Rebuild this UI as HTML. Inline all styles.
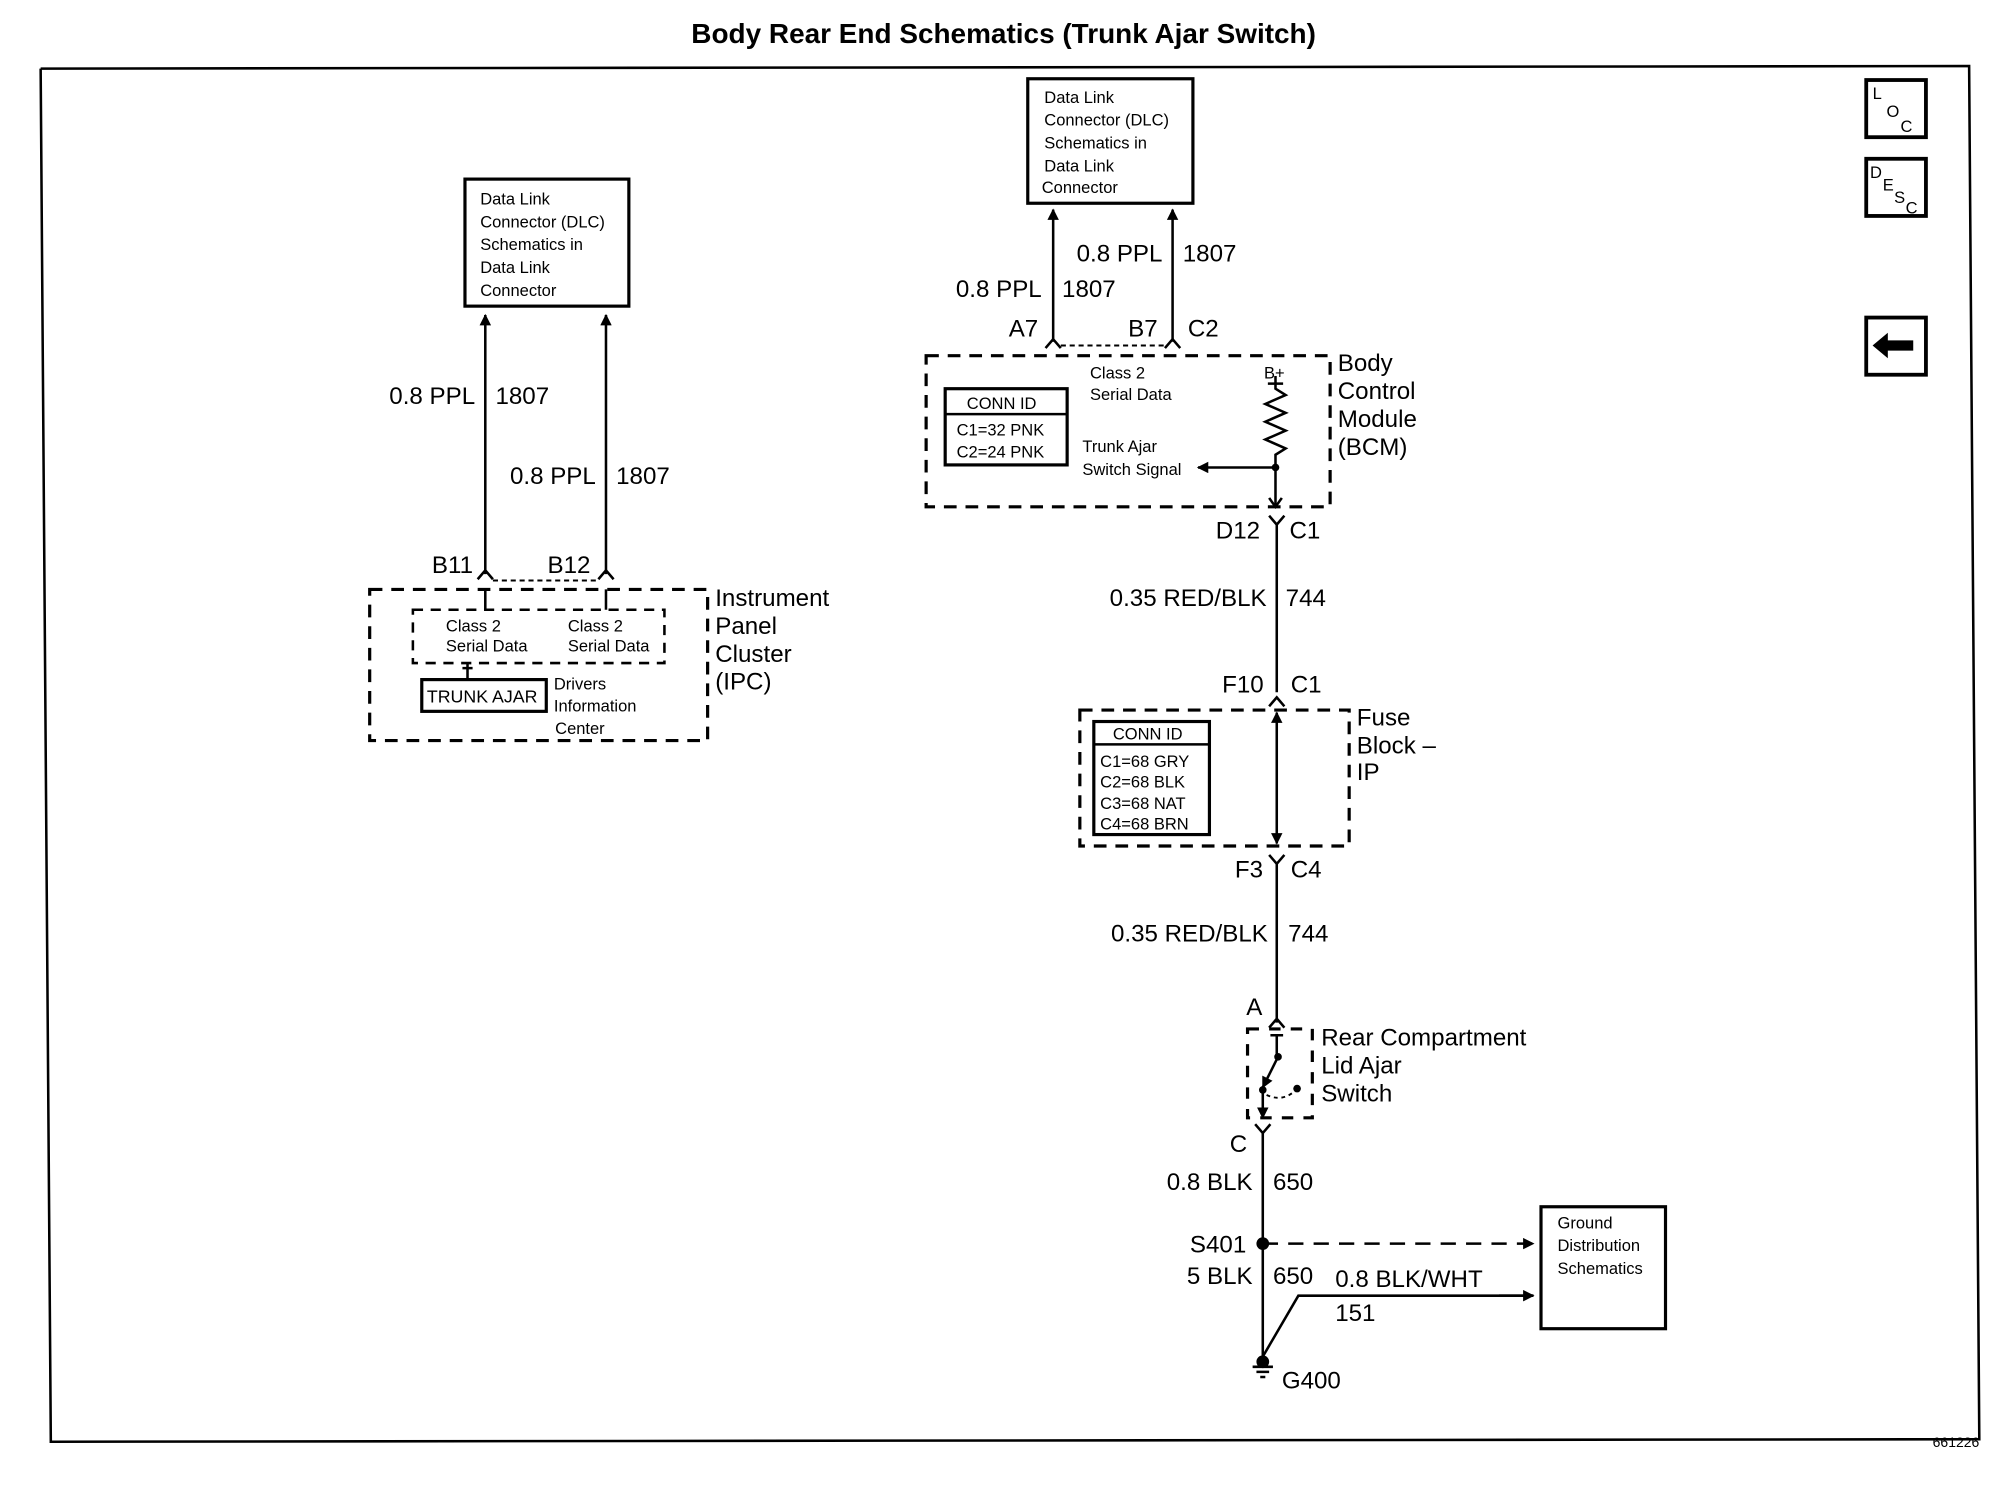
<!DOCTYPE html>
<html><head><meta charset="utf-8"><style>
html,body{margin:0;padding:0;background:#fff}
svg{display:block}
text{font-family:"Liberation Sans Narrow","Liberation Sans",sans-serif;fill:#000}
.s{font-size:13px}
.m{font-size:18px}
.l{font-size:19px}
</style></head><body>
<svg width="1992" height="1504" viewBox="0 0 1568 1184" preserveAspectRatio="none" xmlns="http://www.w3.org/2000/svg">
<defs>
<marker id="ar" viewBox="0 0 10 10" refX="9" refY="5" markerWidth="14" markerHeight="9" orient="auto-start-reverse" markerUnits="userSpaceOnUse"><path d="M0,0 L10,5 L0,10 z" fill="#000"/></marker>
</defs>
<g fill="none" stroke="#000" stroke-width="2">
<polyline points="32,54 1550,52 1558,1133 40,1135 32,54"/>
<rect x="1469" y="63" width="47" height="45" stroke-width="3"/>
<rect x="1469" y="125" width="47" height="45" stroke-width="3"/>
<rect x="1469" y="250" width="47" height="45" stroke-width="3"/>
<rect x="366" y="141" width="129" height="100" stroke-width="2.5"/>
<line x1="382" y1="248" x2="382" y2="452" marker-start="url(#ar)"/>
<line x1="477" y1="248" x2="477" y2="452" marker-start="url(#ar)"/>
<path d="M376,456 L382,449 L388,456 M471,456 L477,449 L483,456"/>
<line x1="388" y1="457" x2="471" y2="457" stroke-dasharray="4,3" stroke-width="1.5"/>
<rect x="291" y="464" width="266" height="119" stroke-dasharray="10,7" stroke-width="2.5"/>
<rect x="325" y="480" width="198" height="42" stroke-dasharray="8,6" stroke-width="2"/>
<path d="M382,470 L382,480 M477,470 L477,480 M382,464 v6 M477,464 v6"/>
<rect x="332" y="535" width="98" height="25" stroke-width="2.5"/>
<path d="M368,522 V535 M364,526 h8"/>
<rect x="809" y="62" width="130" height="98" stroke-width="2.5"/>
<line x1="829" y1="165" x2="829" y2="269" marker-start="url(#ar)"/>
<line x1="923" y1="165" x2="923" y2="269" marker-start="url(#ar)"/>
<path d="M823,274 L829,267 L835,274 M917,274 L923,267 L929,274"/>
<line x1="835" y1="272" x2="917" y2="272" stroke-dasharray="4,3" stroke-width="1.5"/>
<rect x="729" y="280" width="318" height="119" stroke-dasharray="10,7" stroke-width="2.5"/>
<rect x="744" y="306" width="96" height="60" stroke-width="2.5"/>
<line x1="744" y1="326" x2="840" y2="326"/>
<path d="M998,302 h12 M1004,296 V306 L1012,311 L996,318 L1012,325 L996,332 L1012,339 L996,346 L1012,353 L1004,358 V399"/>
<line x1="1004" y1="368" x2="943" y2="368" marker-end="url(#ar)"/>
<path d="M999,392 L1004,399 L1009,392"/>
<path d="M999,406 L1005,413 L1011,406 M1005,413 V545 M999,556 L1005,549 L1011,556"/>
<rect x="850" y="559" width="212" height="107" stroke-dasharray="10,7" stroke-width="2.5"/>
<rect x="861" y="568" width="91" height="89" stroke-width="2.5"/>
<line x1="861" y1="586" x2="952" y2="586"/>
<line x1="1005" y1="561" x2="1005" y2="664" marker-start="url(#ar)" marker-end="url(#ar)"/>
<path d="M999,673 L1005,680 L1011,673 M1005,680 V805 M999,809 L1005,802 L1011,809"/>
<rect x="982" y="810" width="51" height="70" stroke-dasharray="9,8" stroke-width="2.5"/>
<path d="M1000,815 h10 M1005,815 V830"/>
<line x1="1006" y1="832" x2="994" y2="856" marker-end="url(#ar)"/>
<path d="M994,858 V880" marker-end="url(#ar)"/>
<path d="M997,862 Q1010,868 1020,858" stroke-dasharray="3,3" stroke-width="1.5"/>
<path d="M988,885 L994,892 L1000,885 M994,892 V1072"/>
<line x1="994" y1="979" x2="1207" y2="979" stroke-dasharray="12,8" marker-end="url(#ar)"/>
<polyline points="1207,1020 1022,1020 994,1068"/>
<line x1="1180" y1="1020" x2="1207" y2="1020" marker-end="url(#ar)"/>
<path d="M986,1076 h16 M989,1080 h10 M992,1084 h4"/>
<rect x="1213" y="950" width="98" height="96" stroke-width="2.5"/>
</g>
<circle cx="1004" cy="368" r="3"/>
<circle cx="994" cy="979" r="5"/>
<circle cx="994" cy="1072" r="5"/>
<circle cx="1006" cy="832" r="3"/>
<circle cx="994" cy="858" r="3"/>
<circle cx="1021" cy="857" r="3"/>
<path d="M1474,272 L1486,262 V268 H1506 V276 H1486 V282 Z" fill="#000"/>
<text x="790" y="34" text-anchor="middle" style="font-family:'Liberation Sans',sans-serif;font-weight:bold;font-size:22px">Body Rear End Schematics (Trunk Ajar Switch)</text>
<text x="1558" y="1139" text-anchor="end" style="font-size:11px">661226</text>
<text x="1474" y="78" class="s">L</text><text x="1485" y="92" class="s">O</text><text x="1496" y="104" class="s">C</text>
<text x="1472" y="140" class="s">D</text><text x="1482" y="150" class="s">E</text><text x="1491" y="160" class="s">S</text><text x="1500" y="168" class="s">C</text>
<g class="s">
<text x="378" y="161">Data Link</text><text x="378" y="179">Connector (DLC)</text><text x="378" y="197">Schematics in</text><text x="378" y="215">Data Link</text><text x="378" y="233">Connector</text>
<text x="822" y="81">Data Link</text><text x="822" y="99">Connector (DLC)</text><text x="822" y="117">Schematics in</text><text x="822" y="135">Data Link</text><text x="820" y="152">Connector</text>
<text x="351" y="497">Class 2</text><text x="351" y="513">Serial Data</text>
<text x="447" y="497">Class 2</text><text x="447" y="513">Serial Data</text>
<text x="336" y="553" style="font-size:14px">TRUNK AJAR</text>
<text x="436" y="543">Drivers</text><text x="436" y="560">Information</text><text x="437" y="578">Center</text>
<text x="858" y="298">Class 2</text><text x="858" y="315">Serial Data</text>
<text x="995" y="298">B+</text>
<text x="761" y="322">CONN ID</text><text x="753" y="343">C1=32 PNK</text><text x="753" y="360">C2=24 PNK</text>
<text x="852" y="356">Trunk Ajar</text><text x="852" y="374">Switch Signal</text>
<text x="876" y="582">CONN ID</text><text x="866" y="604">C1=68 GRY</text><text x="866" y="620">C2=68 BLK</text><text x="866" y="637">C3=68 NAT</text><text x="866" y="653">C4=68 BRN</text>
<text x="1226" y="967">Ground</text><text x="1226" y="985">Distribution</text><text x="1226" y="1003">Schematics</text>
</g>
<g class="l">
<text x="374" y="318" text-anchor="end">0.8 PPL</text><text x="390" y="318">1807</text>
<text x="469" y="381" text-anchor="end">0.8 PPL</text><text x="485" y="381">1807</text>
<text x="340" y="451">B11</text><text x="431" y="451">B12</text>
<text x="563" y="477">Instrument</text><text x="563" y="499">Panel</text><text x="563" y="521">Cluster</text><text x="563" y="543">(IPC)</text>
<text x="820" y="234" text-anchor="end">0.8 PPL</text><text x="836" y="234">1807</text>
<text x="915" y="206" text-anchor="end">0.8 PPL</text><text x="931" y="206">1807</text>
<text x="794" y="265">A7</text><text x="888" y="265">B7</text><text x="935" y="265">C2</text>
<text x="1053" y="292">Body</text><text x="1053" y="314">Control</text><text x="1053" y="336">Module</text><text x="1053" y="358">(BCM)</text>
<text x="957" y="424">D12</text><text x="1015" y="424">C1</text>
<text x="997" y="477" text-anchor="end">0.35 RED/BLK</text><text x="1012" y="477">744</text>
<text x="962" y="545">F10</text><text x="1016" y="545">C1</text>
<text x="1068" y="571">Fuse</text><text x="1068" y="593">Block –</text><text x="1068" y="614">IP</text>
<text x="972" y="691">F3</text><text x="1016" y="691">C4</text>
<text x="998" y="741" text-anchor="end">0.35 RED/BLK</text><text x="1014" y="741">744</text>
<text x="981" y="799">A</text>
<text x="1040" y="823">Rear Compartment</text><text x="1040" y="845">Lid Ajar</text><text x="1040" y="867">Switch</text>
<text x="968" y="907">C</text>
<text x="986" y="937" text-anchor="end">0.8 BLK</text><text x="1002" y="937">650</text>
<text x="981" y="986" text-anchor="end">S401</text>
<text x="986" y="1011" text-anchor="end">5 BLK</text><text x="1002" y="1011">650</text>
<text x="1051" y="1013">0.8 BLK/WHT</text><text x="1051" y="1040">151</text>
<text x="1009" y="1093">G400</text>
</g>
</svg>
</body></html>
